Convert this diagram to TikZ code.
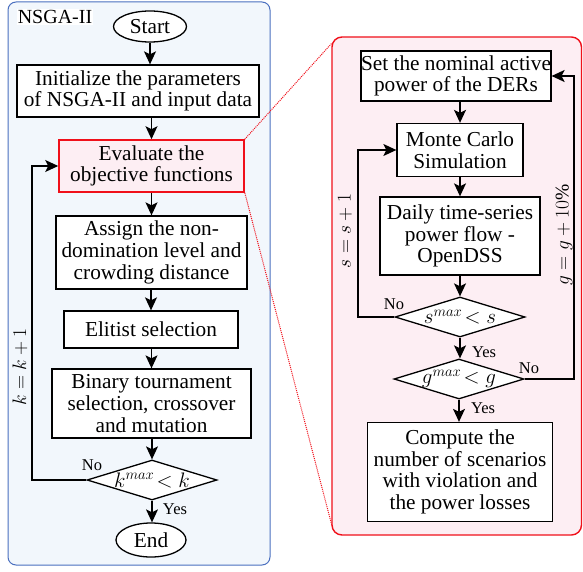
\RequirePackage{fix-cm}
\documentclass[tikz,border=0pt]{standalone}
\usepackage{fontspec}
\setmainfont{Liberation Serif}
\usetikzlibrary{arrows.meta,shapes.geometric}
\definecolor{bluefill}{HTML}{F2F7FC}
\definecolor{blueline}{HTML}{4A6FBF}
\definecolor{pinkfill}{HTML}{FDEEF3}
\definecolor{redline}{HTML}{F0101A}
\tikzset{
  box/.style={draw=black, line width=1.3pt, fill=white, align=center, inner sep=0pt,
    font=\fontsize{21.3}{21.7}\selectfont},
  term/.style={draw=black, line width=1.3pt, fill=white, ellipse, inner sep=0pt,
    font=\fontsize{21.3}{21.7}\selectfont},
  dia/.style={draw=black, line width=1.3pt, fill=white, diamond, inner sep=0pt},
  diatext/.style={inner sep=0pt, font=\fontsize{21}{22}\selectfont},
  arr/.style={line width=1.3pt, -{Stealth[length=13pt,width=12pt,inset=3pt]}},
  lnk/.style={line width=1.3pt},
  lbl/.style={inner sep=0pt, font=\fontsize{16.5}{18}\selectfont},
  mlbl/.style={inner sep=0pt, font=\fontsize{19.5}{21}\selectfont, rotate=90},
  zoomline/.style={redline, line width=1pt, densely dotted}
}
\begin{document}
\begin{tikzpicture}[x=1pt,y=-1pt]
\useasboundingbox (0,0) rectangle (583,572);
% panels
\draw[blueline, fill=bluefill, line width=1pt, rounded corners=8pt] (8,2) rectangle (270,565);
\draw[redline, fill=pinkfill, line width=1.4pt, rounded corners=10pt] (332,37) rectangle (581.5,535);
\node[fill=white, inner sep=1pt, font=\fontsize{20}{22}\selectfont] (title) at (55,17) {NSGA-II};

% left flow
\node[term, minimum width=73pt, minimum height=31pt] (start) at (150,26.5) {Start};
\node[box, minimum width=242pt, minimum height=52pt] (init) at (138,91) {Initialize the parameters\\of NSGA-II and input data};
\node[box, draw=redline, fill=pinkfill, line width=1.6pt, minimum width=185pt, minimum height=52pt] (eval) at (151.5,166) {Evaluate the\\objective functions};
\node[box, minimum width=191pt, minimum height=73pt] (assign) at (151.5,252.5) {Assign the non-\\domination level and\\crowding distance};
\node[box, minimum width=174pt, minimum height=37pt] (elit) at (151,329.5) {Elitist selection};
\node[box, minimum width=199pt, minimum height=69pt] (bin) at (151.5,403.5) {Binary tournament\\selection, crossover\\and mutation};
\node[dia, minimum width=130pt, minimum height=40pt] (kd) at (152,480) {};
\node[diatext] (kdt) at (kd.center) {$k^{max}\!<k$};
\node[term, minimum width=70pt, minimum height=34pt] (end) at (151,540) {End};

\draw[arr] (start.south) -- (start.south |- init.north);
\draw[arr] (init.south -| eval.north) -- (eval.north);
\draw[arr] (eval.south) -- (eval.south |- assign.north);
\draw[arr] (assign.south -| elit.north) -- (elit.north);
\draw[arr] (elit.south -| bin.north) -- (bin.north);
\draw[arr] (bin.south -| kd.north) -- (kd.north);
\draw[arr] (kd.south) -- (kd.south |- end.north);
\coordinate (kloop) at (32,480);
\draw[arr] (kd.west) -- (kloop) |- (eval.west);
\node[lbl] (kno) at (92,465) {No};
\node[lbl] (kyes) at (175,509) {Yes};
\node[mlbl] (klab) at (20,367) {$k=k+1$};

% zoom lines
\coordinate (ztop) at (332,43);
\coordinate (zbot) at (332,526);
\draw[zoomline] (eval.north east) -- (ztop);
\draw[zoomline] (eval.south east) -- (zbot);

% right flow
\node[box, minimum width=188pt, minimum height=50pt] (set) at (456,76) {Set the nominal active\\power of the DERs};
\node[box, minimum width=126pt, minimum height=53pt] (mc) at (460,150) {Monte Carlo\\Simulation};
\node[box, minimum width=160pt, minimum height=78pt] (daily) at (460,236) {Daily time-series\\power flow -\\OpenDSS};
\node[dia, minimum width=130pt, minimum height=40pt] (sd) at (460,317) {};
\node[diatext] (sdt) at (sd.center) {$s^{max}\!<s$};
\node[dia, minimum width=130pt, minimum height=40pt] (gd) at (459,379) {};
\node[diatext] (gdt) at (gd.center) {$g^{max}\!<g$};
\node[box, minimum width=185pt, minimum height=99pt] (comp) at (460,472) {Compute the\\number of scenarios\\with violation and\\the power losses};

\draw[arr] (set.south -| mc.north) -- (mc.north);
\draw[arr] (mc.south) -- (daily.north);
\draw[arr] (daily.south) -- (sd.north);
\draw[arr] (sd.south) -- (sd.south |- gd.north);
\draw[arr] (gd.south) -- (gd.south |- comp.north);
\coordinate (sloop) at (358,317);
\draw[arr] (sd.west) -- (sloop) |- (mc.west);
\coordinate (gloop) at (574,379);
\draw[arr] (gd.east) -- (gloop) |- (set.east);
\node[lbl] (sno) at (394,304) {No};
\node[lbl] (syes) at (484,352) {Yes};
\node[lbl] (gno) at (529,368) {No};
\node[lbl] (gyes) at (483,408) {Yes};
\node[mlbl] (slab) at (345,231) {$s=s+1$};
\node[mlbl] (glab) at (564,235) {$g=g+10\%$};
\end{tikzpicture}
\end{document}
